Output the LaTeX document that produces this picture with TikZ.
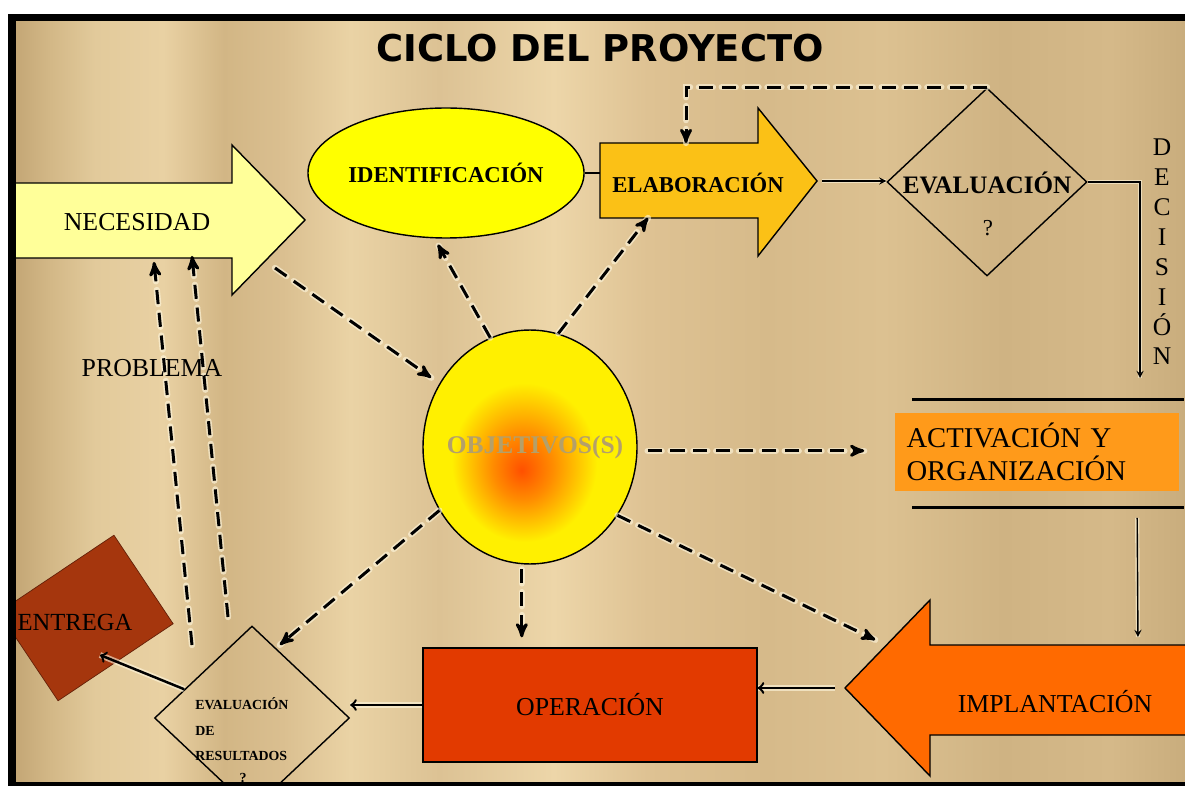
\documentclass[tikz,border=0pt]{standalone}
\usepackage{fontspec}
\setmainfont{Liberation Serif}
\newfontfamily\titlefont{DejaVu Sans}
\usepackage{tikz}
\usetikzlibrary{shapes.geometric,arrows,calc}

\definecolor{bg0}{HTML}{C4A776}
\definecolor{bg1}{HTML}{D3B887}
\definecolor{bg2}{HTML}{E2CA9B}
\definecolor{bg3}{HTML}{E9D1A3}
\definecolor{bg4}{HTML}{D2B685}
\definecolor{bg5}{HTML}{DABF90}
\definecolor{bg6}{HTML}{EAD3A5}
\definecolor{bg7}{HTML}{DCC294}
\definecolor{bg8}{HTML}{EDD6A9}
\definecolor{bg9}{HTML}{DEC293}
\definecolor{bg10}{HTML}{D6BA8A}
\definecolor{bg11}{HTML}{DCC191}
\definecolor{bg12}{HTML}{CFB383}
\definecolor{bg13}{HTML}{D5B989}
\definecolor{bg14}{HTML}{C9AD7D}
\definecolor{glow}{HTML}{FFF8E0}
\definecolor{necfill}{HTML}{FFFF99}
\definecolor{identfill}{HTML}{FFFF00}
\definecolor{elabfill}{HTML}{FBC116}
\definecolor{activfill}{HTML}{FF9A1A}
\definecolor{impfill}{HTML}{FF6A00}
\definecolor{operfill}{HTML}{E23A00}
\definecolor{entfill}{HTML}{A5360D}
\definecolor{objcore}{HTML}{FF5000}
\definecolor{objmid}{HTML}{FF8C00}
\definecolor{objyel}{HTML}{FFF000}
\definecolor{objtext}{HTML}{B4A06A}

\pgfdeclarehorizontalshading{paper}{100bp}{color(0bp)=(bg0); color(25bp)=(bg0);
  color(26.5bp)=(bg1); color(28.4bp)=(bg2); color(31.3bp)=(bg3); color(33.9bp)=(bg4);
  color(36.4bp)=(bg5); color(39.3bp)=(bg6); color(43.1bp)=(bg7); color(48bp)=(bg8);
  color(52bp)=(bg9); color(57.1bp)=(bg10); color(62.1bp)=(bg11); color(67.2bp)=(bg12);
  color(71.8bp)=(bg13); color(75bp)=(bg14); color(100bp)=(bg14)}
\pgfdeclareradialshading{objshade}{\pgfpoint{-2bp}{-5bp}}{color(0bp)=(objcore);
  color(7bp)=(objmid); color(17bp)=(objyel); color(25bp)=(objyel); color(50bp)=(objyel)}

\tikzstyle{txt} = [inner sep=0pt, font=\fontsize{14.7}{17}\selectfont]
\tikzstyle{btxt} = [inner sep=0pt, font=\bfseries\fontsize{12.9}{15}\selectfont]
\tikzstyle{outline} = [draw=black, line width=0.8pt]
\tikzstyle{arrow} = [thick,->,>=stealth, preaction={draw=glow, line width=2.4pt, opacity=0.6, -}]
\tikzstyle{heavyarrow} = [line width=1.4pt,->,>=to, preaction={draw=glow, line width=3.4pt, opacity=0.6, -}]
\tikzstyle{dasharrow} = [line width=1.7pt, dash pattern=on 8pt off 5pt, ->, >=stealth',
  preaction={draw=glow, line width=3.6pt, line cap=round, dash pattern=on 8pt off 5pt, opacity=0.6, -}]

\begin{document}
\begin{tikzpicture}[x=0.02cm, y=-0.02cm]
	\fill[white] (0,0) rectangle (1185,786);
	\fill[black] (8,14) rectangle (1185,786);
	\useasboundingbox (0,0) rectangle (1185,786);
	\begin{scope}
	\clip (16,22) rectangle (1185,781);
	\shade[shading=paper] (16,22) rectangle (1185,781);

	\node (title) at (600,48) {\titlefont\bfseries\fontsize{21}{25}\selectfont CICLO DEL PROYECTO};

	% necesidad
	\fill[necfill] (16,183) -- (232,183) -- (232,145) -- (305,220) -- (232,295) -- (232,258) -- (16,258) -- cycle;
	\draw[outline] (16,183) -- (232,183) -- (232,145) -- (305,220) -- (232,295) -- (232,258) -- (16,258);
	\node[txt] (nec) at (137,222) {NECESIDAD};
	\coordinate (nec-a) at (275,268);
	\coordinate (nec-p1) at (154,262);
	\coordinate (nec-p2) at (192,256);

	% identificacion, elaboracion
	\node[ellipse, outline, fill=identfill, minimum width=5.12cm, minimum height=2.6cm, btxt] (ident) at (446,173) {IDENTIFICACIÓN};
	\draw[outline, fill=elabfill] (600,143) -- (686,143) coordinate (elab-n) -- (758,143) -- (758,108) -- (817,181) coordinate (elab-tip) -- (758,256) -- (758,218) -- (648,218) coordinate (elab-s) -- (600,218) coordinate (elab-sw) -- cycle;
	\node[btxt] (elab) at (698,183) {ELABORACIÓN};
	\draw[outline] (ident.east) -- (ident.east -| elab-sw);

	% evaluacion
	\node[diamond, outline, minimum width=4cm, minimum height=3.76cm, inner sep=0pt] (evalq) at (987,182) {};
	\node[btxt, font=\bfseries\fontsize{14.3}{17}\selectfont] (evalT) at (987,183) {EVALUACIÓN};
	\node[txt, font=\fontsize{13}{14}\selectfont] (evalQm) at (988,228) {?};
	\draw[arrow] ([xshift=0.1cm]elab-tip) -- (elab-tip -| evalq.west);
	\draw[dasharrow] (evalq.north) -| (elab-n);
	\coordinate (dec-end) at (1140,378);
	\draw[arrow] (evalq.east) -| (dec-end);
	\node[txt, align=center, font=\fontsize{14.5}{17}\selectfont] (decis) at (1162,252) {D\\E\\C\\I\\S\\I\\Ó\\N};

	% activacion
	\node[txt, font=\fontsize{16.3}{18.7}\selectfont, fill=activfill, minimum width=5.7cm, minimum height=1.58cm, text width=5.22cm, align=left, inner xsep=0.24cm] (activ) at (1037,452) {ACTIVACIÓN Y\\ORGANIZACIÓN};
	\draw[line width=1.7pt] ([xshift=0.36cm,yshift=0.26cm]activ.north west) -- ++(272,0);
	\draw[line width=1.7pt] ([xshift=0.36cm,yshift=-0.32cm]activ.south west) coordinate (act-lo) -- ++(272,0);

	% implantacion
	\draw[outline, fill=impfill] (1186,645) -- (1138,645) coordinate (imp-n) -- (930,645) -- (930,600) -- (845,688) coordinate (imp-tip) -- (930,776) -- (930,735) -- (1186,735);
	\node[txt] (impT) at (1055,702) {IMPLANTACIÓN};
	\coordinate (imp-ul) at (886,645);
	\draw[arrow, shorten >=0.16cm] ($(act-lo)+(225,10)$) -- (imp-n);

	% operacion
	\node[rectangle, outline, fill=operfill, minimum width=6.68cm, minimum height=2.28cm, txt] (oper) at (590,705) {OPERACIÓN};
	\draw[heavyarrow] ([xshift=-0.2cm]imp-tip) -- (imp-tip -| oper.east);

	% evaluacion de resultados
	\node[diamond, outline, minimum width=3.9cm, minimum height=3.68cm, inner sep=0pt] (evres) at (252,718) {};
	\node[font=\bfseries\fontsize{7.9}{14.7}\selectfont, align=left, anchor=north west, inner sep=0pt] (evresT) at (195,697) {EVALUACIÓN\\DE\\RESULTADOS};
	\node[font=\bfseries\fontsize{7.9}{10}\selectfont, inner sep=0pt] (evresQ) at (243,778) {?};
	\draw[heavyarrow] (oper.west) -- (oper.west -| evres.east);

	% entrega
	\node[rectangle, fill=entfill, draw=entfill!60!black, rotate=33.8, minimum width=2.77cm, minimum height=2.13cm] (entrega) at (86,618) {};
	\node[txt, font=\fontsize{14}{16}\selectfont] (entT) at (75,622) {ENTREGA};
	\draw[heavyarrow] (evres.157) -- ($(entrega)+(14,37)$);

	% objetivos
	\node[ellipse, outline, shade, shading=objshade, minimum width=4.28cm, minimum height=4.68cm] (obj) at (530,447) {};
	\node[btxt, font=\bfseries\fontsize{14.5}{17}\selectfont, text=objtext] (objT) at (535,447) {OBJETIVOS(S)};

	\draw[dasharrow, shorten >=0.2cm] (nec-a) -- (obj);
	\draw[dasharrow, shorten >=0.14cm] (obj.110) -- (ident.260);
	\draw[dasharrow] (obj.76) -- (elab-s);
	\draw[dasharrow, shorten <=0.2cm, shorten >=0.6cm] (obj.-2) -- (obj.-2 -| activ.west);
	\draw[dasharrow, shorten >=0.24cm] (obj.-38) -- (imp-ul);
	\draw[dasharrow, shorten <=0.1cm, shorten >=0.2cm] (obj.266) -- (obj.266 |- oper.north);
	\draw[dasharrow, shorten >=0.1cm] (obj.215) -- (evres.71);

	% problema
	\coordinate (prob-a) at (192,645);
	\coordinate (prob-b) at (228,617);
	\draw[dasharrow] (prob-a) -- (nec-p1);
	\draw[dasharrow] (prob-b) -- (nec-p2);
	\node[txt] (prob) at (152,368) {PROBLEMA};
	\end{scope}
\end{tikzpicture}
\end{document}
